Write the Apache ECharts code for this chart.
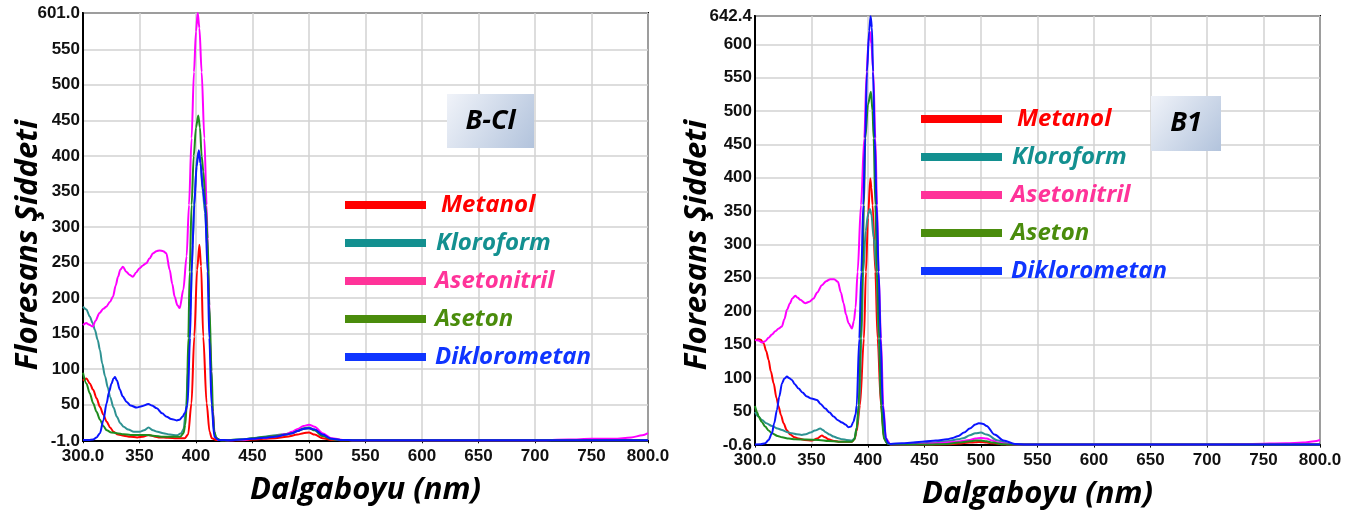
<!DOCTYPE html>
<html>
<head>
<meta charset="utf-8">
<script src="https://cdn.jsdelivr.net/npm/echarts@6/dist/echarts.min.js"></script>
<style>
html,body{margin:0;padding:0;background:#fff;}
#chart{width:1370px;height:517px;}
</style>
</head>
<body>
<div id="chart"></div>
<script>
// ---------- tick labels ----------
const xTicks = [300, 350, 400, 450, 500, 550, 600, 650, 700, 750, 800];
const yTicksBCl = [-1.0, 50, 100, 150, 200, 250, 300, 350, 400, 450, 500, 550, 601.0];
const yTicksB1 = [-0.6, 50, 100, 150, 200, 250, 300, 350, 400, 450, 500, 550, 600, 642.4];

// ---------- names ----------
const solvents = ['Metanol', 'Kloroform', 'Asetonitril', 'Aseton', 'Diklorometan'];
const panelLabels = ['B-Cl', 'B1'];
const xTitle = 'Dalgaboyu (nm)';
const yTitle = 'Floresans Şiddeti';

// ---------- B-Cl spectra [wavelength nm, intensity] ----------
const bclMetanol = [[300,84],[303,87],[306,80],[309,71],[312,59],[315,47],[318,36],[321,26],[324,18],[327,12],[331,8],[336,6.5],[342,5],[348,4],[353,5],[358,7.5],[363,5.5],[368,4],[375,3.5],[383,3],[390,3],[393,8],[396,52],[398.5,146],[401,240],[403,275],[404.5,245],[406.4,146],[409.4,52],[412,12],[414,3],[418,0.5],[425,0],[440,0],[450,1],[460,2],[470,3],[480,5],[490,8],[495,10],[500,11],[505,8],[512,3],[520,0.5],[530,0],[600,0],[700,0],[800,0]];
const bclKloroform = [[300,188],[303,184],[306,174],[308.5,165],[310.6,155],[313,141],[315,127],[317,108],[319.5,90],[322,74],[324,61],[327,46],[330,33],[333,24],[336,19],[340,15],[345,12],[350,12],[354,14],[358,18],[362,14],[366,12],[371,10],[377,8],[383,7],[387,10],[389,16],[391,40],[393,100],[395,180],[397,275],[399,350],[401,398],[402.5,405],[404,390],[406,350],[408,320],[410,270],[411.5,190],[413,110],[414.5,45],[416,12],[418,3],[422,0],[440,1],[450,3],[460,5],[470,7],[480,9],[485,11],[490,14],[495,17],[500,18],[505,15],[512,8],[520,2],[530,0.5],[540,0],[650,0],[800,0]];
const bclAsetonitril = [[300,162],[303,165],[305,163],[308.7,160],[311,168],[314.6,179],[318,185],[320.6,188],[324,195],[326.5,202],[329,218],[331,230],[333,240],[335.3,244],[338.3,237],[341,233],[344.2,230],[347,236],[350.1,242],[353,246],[356,249],[359,256],[362,263],[365,266],[367.8,267],[371,266],[373.7,263],[376.7,240],[379,220],[381.1,202],[383.5,190],[385.6,186],[388.8,212],[391.7,259],[393.8,331],[396.1,425],[398.2,518],[400,575],[401.5,601],[403,580],[405,518],[407.4,425],[409.4,331],[410.9,237],[412.4,144],[414.4,50],[416.8,5],[420,0.5],[430,0],[440,0.5],[450,2],[460,3.5],[470,6],[480,9],[485,12],[490,16],[495,20],[500,22],[505,19],[512,10],[520,3],[530,0.5],[540,0],[700,0],[730,1],[750,2],[770,2],[785,4],[795,7],[800,10]];
const bclAseton = [[300,95],[303,80],[306,66],[309,52],[312,40],[315,29],[318,20],[321,14],[325,11],[330,10],[336,8.5],[342,7.5],[350,7.5],[356,7.5],[362,6.5],[371,5],[380,5],[386,5],[389,10],[390.5,22],[391.8,50],[393.2,144],[394.4,237],[396.1,331],[398,400],[400,440],[402,457],[403.5,440],[405,400],[406.5,378],[408.5,330],[410.3,284],[411.8,190],[413.8,97],[415,40],[416.2,12],[418,3],[422,0],[440,1],[450,3],[460,4.5],[470,6],[480,8],[485,10],[490,13],[495,16],[500,17],[505,14],[512,6],[520,1.5],[530,0],[650,0],[800,0]];
const bclDiklorometan = [[300,0.4],[305,0.4],[309,1],[312,4],[315,10],[318,28],[320.9,52],[323,68],[325.3,80],[327,87],[328.3,89],[330,84],[332.7,71],[335,62],[338.6,54],[342,49],[347.5,46],[352,48],[357.9,51],[361,49],[365.3,45],[370,38],[374.1,33],[378,30],[383,28],[385.5,29],[388,33],[390,38],[392.6,50],[394.7,144],[396.1,237],[398.5,331],[400.5,385],[402.5,408],[404,390],[406,355],[408,331],[410.3,237],[411.8,144],[413.8,50],[416.2,5],[420,0.5],[430,0],[450,2],[460,3.5],[470,5],[480,8],[485,10],[490,13],[495,16],[500,17],[505,15],[512,8],[520,2],[530,0.5],[540,0],[650,0],[800,0]];

// ---------- B1 spectra [wavelength nm, intensity] ----------
const b1Metanol = [[300,156],[303,158],[305,157],[307.6,152],[310,140],[312,127],[314,110],[316.5,92],[319,70],[320.9,57],[323,44],[325.3,32],[328,22],[331.2,15],[335,11],[338.6,9],[344,7],[350.4,6],[355,9],[359.2,13.5],[362,11],[365,8],[370,5.5],[374,4.4],[380,4.4],[385.8,4.4],[388,8],[390,20],[392.9,59],[396.4,159],[398.2,259],[400,340],[402,399],[403,385],[404.1,359],[406.5,259],[408.5,159],[411.5,59],[414.4,9],[417,2],[420,0.5],[440,0],[470,0.5],[480,1.5],[490,3],[495,3.5],[500,4],[505,3],[510,2],[520,0.5],[530,0],[650,0],[800,0]];
const b1Kloroform = [[300,49],[303,42],[306.2,37],[310,32],[315,28],[320,24],[323.9,22],[328,19],[332.7,17],[337,15.5],[341.5,14.5],[345,15.5],[348.9,18],[353,21],[357.8,24],[360,22],[362.2,19],[366,15],[369.6,12],[373,10],[377,8],[381,7],[385.8,6],[388,9],[390,25],[392.3,59],[394.2,159],[395.8,259],[398,320],[400,345],[401.7,353],[403,345],[405,310],[407.6,259],[409.4,159],[411.8,59],[414.4,9],[417,2],[420,0.5],[440,0.5],[450,2],[460,3.5],[470,5],[480,8],[485,10],[490,14],[495,17],[500,18],[505,15],[515,6],[525,1],[535,0],[650,0],[800,0]];
const b1Asetonitril = [[300,157],[303,156],[306.2,153],[309,155],[312,160],[315,165],[318,170],[321,174],[323.8,177],[326,188],[328.3,202],[331,212],[333,219],[335.6,223],[338,220],[340,217],[344.5,212],[348,214],[351.9,219],[355,228],[359.2,239],[363,245],[366.6,248],[370,248],[373.4,244],[376,228],[378.4,212],[380.5,195],[382.8,182],[385.8,174],[387.5,185],[389,205],[390.8,259],[393.8,359],[396.7,459],[398.8,559],[400.5,605],[401.7,619],[403,600],[404.7,559],[406.5,459],[408,359],[409.4,259],[411.5,159],[413.5,59],[415.9,9],[420,0.5],[440,0.5],[460,2],[470,3],[480,4.5],[490,7],[495,9],[500,10],[505,9],[510,6],[515,3],[525,0.5],[540,0],[700,0],[740,1],[770,2],[785,3],[795,5],[800,7]];
const b1Aseton = [[300,58],[302,48],[303.2,42],[306,34],[309,27],[312,21],[315,17],[320,13],[323.9,11],[330,9],[335.6,8],[345,7.5],[356.3,7],[365,5.5],[374,4.4],[385.8,4.4],[388,8],[390,25],[391.7,59],[393.5,159],[395.2,259],[396.4,359],[397.6,459],[400,510],[402.6,529],[404,500],[405,459],[406.5,359],[408,259],[410,159],[411.5,59],[414,9],[417,2],[420,0.5],[450,0],[470,1],[480,3],[490,5],[495,6],[500,6],[505,5],[510,3],[520,0.5],[530,0],[650,0],[800,0]];
const b1Diklorometan = [[300,0],[305,0.5],[309,2],[312,7],[315,17],[317,32],[319.4,52],[321.5,72],[323.9,92],[326,99],[328.3,102],[330,100],[332.7,97],[335,91],[338.6,84],[342,78],[346,72],[350,69],[354.8,67],[358,61],[362.2,54],[366,48],[369.6,42],[373,37],[377,33],[380,30],[382.8,26],[385,27],[387,34],[389,45],[390,59],[392.3,159],[394.1,259],[395.8,359],[397.5,459],[399.1,559],[401,620],[402.3,642],[403.5,625],[404.4,559],[406,459],[407.6,359],[409.4,259],[411.2,159],[413,59],[415.9,9],[418,2],[420,1],[430,2],[440,3],[450,4.5],[460,6],[470,8],[475,10],[480,13],[485,18],[490,24],[495,30],[498,32],[502,31],[505,28],[512,15],[520,6],[530,1],[540,0],[650,0],[800,0]];

const bclData = [bclMetanol, bclKloroform, bclAsetonitril, bclAseton, bclDiklorometan];
const b1Data = [b1Metanol, b1Kloroform, b1Asetonitril, b1Aseton, b1Diklorometan];

// ---------- styles ----------
const lineColors = ['#ff0000', '#2e9292', '#ff00ff', '#1e8c1e', '#0a14ff'];
const keyColors = ['#ff0000', '#139090', '#ff3399', '#4a8c0c', '#0f35ff'];
const keyIndent = [10, 5, 4, 4, 4];
const FONT_T = "'Open Sans', 'Noto Sans', sans-serif";
const FONT_N = "'Liberation Sans', Arial, sans-serif";

function makeGrid(left, top, height) {
  return { left: left, top: top, width: 565, height: height, show: true,
           borderColor: '#000', borderWidth: 2, backgroundColor: '#fff', containLabel: false,
           outerBoundsMode: 'none' };
}
function makeX(gi) {
  return {
    type: 'value', gridIndex: gi, min: xTicks[0], max: xTicks[xTicks.length - 1], interval: 50,
    name: xTitle, nameLocation: 'middle', nameGap: 34,
    nameTextStyle: { fontFamily: FONT_T, fontSize: 31, fontWeight: 'bold', fontStyle: 'italic', color: '#000' },
    axisLine: { show: true, lineStyle: { color: '#000', width: 2 } },
    axisTick: { show: true, length: 3, lineStyle: { color: '#000' } },
    splitLine: { show: true, lineStyle: { color: '#d2d2d2', width: 1.5 } },
    axisLabel: { margin: 7, fontFamily: FONT_N, fontWeight: 'bold', fontSize: 17, color: '#111',
      customValues: xTicks,
      formatter: v => (v === xTicks[0] || v === xTicks[xTicks.length - 1]) ? v.toFixed(1) : String(v) }
  };
}
function makeY(gi, ticks) {
  const mn = ticks[0], mx = ticks[ticks.length - 1];
  return {
    type: 'value', gridIndex: gi, min: mn, max: mx,
    axisLine: { show: true, lineStyle: { color: '#000', width: 2 } },
    axisTick: { show: false, customValues: ticks },
    splitLine: { show: true, lineStyle: { color: '#d2d2d2', width: 1.5 } },
    axisLabel: { margin: 3, fontFamily: FONT_N, fontWeight: 'bold', fontSize: 17, color: '#111',
      customValues: ticks, showMinLabel: true, showMaxLabel: true,
      formatter: v => (v === mn || v === mx) ? v.toFixed(1) : String(v) }
  };
}
function makeLegend(left, top) {
  return {
    left: left, top: top, orient: 'vertical', selectedMode: false,
    icon: 'rect', itemWidth: 81, itemHeight: 8, itemGap: 10,
    textStyle: { fontFamily: FONT_T, fontSize: 24, fontWeight: 'bold', fontStyle: 'italic', lineHeight: 28 },
    data: solvents.map((n, i) => ({ name: n, itemStyle: { color: keyColors[i] },
      textStyle: { color: keyColors[i], padding: [0, 0, 0, keyIndent[i]] } }))
  };
}
const series = [];
[bclData, b1Data].forEach((set, gi) => {
  set.forEach((d, i) => {
    series.push({ name: solvents[i], type: 'line', xAxisIndex: gi, yAxisIndex: gi, data: d,
      showSymbol: false, smooth: 0.3, smoothMonotone: 'x',
      lineStyle: { color: lineColors[i], width: 2 }, itemStyle: { color: lineColors[i] },
      z: 2 + i });
  });
});

function labelBox(x, y, w, h, text) {
  return [
    { type: 'rect', x: x, y: y, z: 100, shape: { x: 0, y: 0, width: w, height: h },
      style: { fill: { type: 'linear', x: 0, y: 0, x2: 1, y2: 1, colorStops: [
        { offset: 0, color: '#f0f3f9' }, { offset: 1, color: '#b2c3dc' }] } } },
    { type: 'text', x: x + w / 2, y: y + h / 2, z: 101,
      style: { text: text, align: 'center', verticalAlign: 'middle', fill: '#000',
        font: "italic bold 27px 'Open Sans', sans-serif" } }
  ];
}
function yTitleText(x, y) {
  return { type: 'text', x: x, y: y, rotation: Math.PI / 2, z: 100,
    style: { text: yTitle, align: 'center', verticalAlign: 'middle', fill: '#000',
      font: "italic bold 31px 'Open Sans', sans-serif" } };
}

const chart = echarts.init(document.getElementById('chart'), null, { renderer: 'canvas' });
chart.setOption({
  animation: false,
  backgroundColor: '#fff',
  grid: [makeGrid(83, 13, 428), makeGrid(755, 16, 429)],
  xAxis: [makeX(0), makeX(1)],
  yAxis: [makeY(0, yTicksBCl), makeY(1, yTicksB1)],
  legend: [makeLegend(340, 186), makeLegend(916, 100)],
  series: series,
  graphic: [].concat(
    labelBox(447, 94, 87, 54, panelLabels[0]),
    labelBox(1151, 96, 70, 55, panelLabels[1]),
    [yTitleText(28, 245), yTitleText(697, 245)]
  )
});
</script>
</body>
</html>
